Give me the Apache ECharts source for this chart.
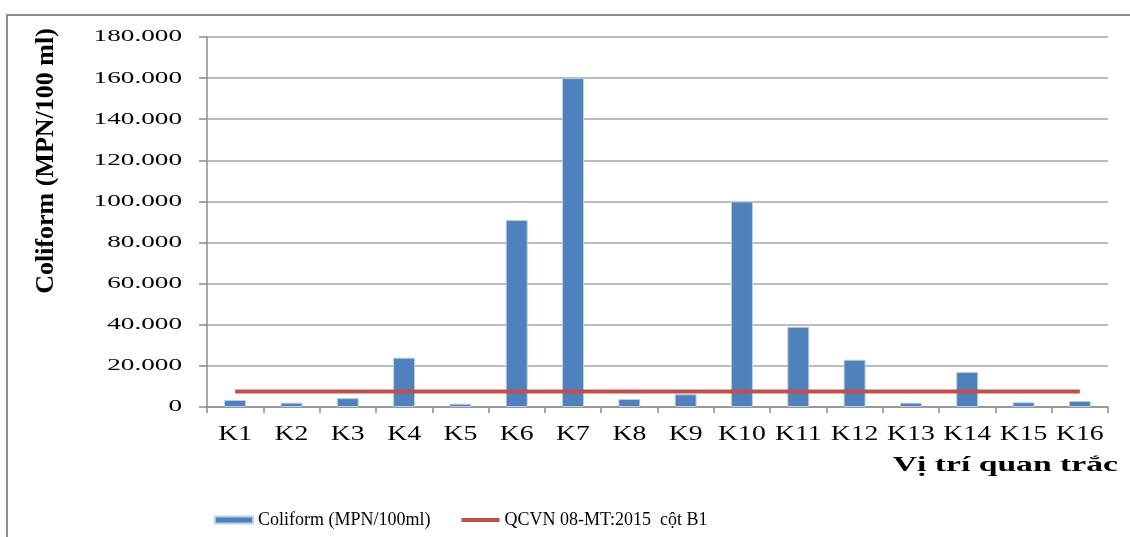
<!DOCTYPE html>
<html>
<head>
<meta charset="utf-8">
<script src="https://cdn.jsdelivr.net/npm/echarts@6/dist/echarts.min.js"></script>
<style>html,body{margin:0;padding:0;background:#fff}#c{width:1130px;height:537px}</style>
</head>
<body>
<div id="c"></div>
<script>
const categories = ['K1','K2','K3','K4','K5','K6','K7','K8','K9','K10','K11','K12','K13','K14','K15','K16'];
const coliform = [3400, 2100, 4300, 24000, 1600, 91000, 160000, 3900, 6200, 100000, 39000, 23000, 2100, 17000, 2300, 2900];
const qcvnLimit = [7500, 7500, 7500, 7500, 7500, 7500, 7500, 7500, 7500, 7500, 7500, 7500, 7500, 7500, 7500, 7500];
const yTicks = [0, 20000, 40000, 60000, 80000, 100000, 120000, 140000, 160000, 180000];
const yAxisTitle = 'Coliform (MPN/100 ml)';
const xAxisTitle = 'Vị trí quan trắc';
const seriesNames = ['Coliform (MPN/100ml)', 'QCVN 08-MT:2015  cột B1'];

const font = '"Liberation Serif", "Times New Roman", serif';
function fmt(v){ return v === 0 ? '0' : String(v).replace(/\B(?=(\d{3})+(?!\d))/g, '.'); }

const GRID = { left: 207, right: 22, top: 37, bottom: 130 };
const W = 1130;

const chart = echarts.init(document.getElementById('c'));
chart.setOption({
  animation: false,
  backgroundColor: '#fff',
  textStyle: { fontFamily: font },
  grid: { left: GRID.left, right: GRID.right, top: GRID.top, bottom: GRID.bottom, containLabel: false },
  legend: {
    left: 209, top: 506, itemGap: 31, itemWidth: 38, itemHeight: 7,
    textStyle: { fontFamily: font, fontSize: 18, color: '#000' },
    data: [
      { name: seriesNames[0], icon: 'rect' },
      { name: seriesNames[1], icon: 'path://M0,0 L0,0 M0,1.5 L38,1.5 L38,5.5 L0,5.5 Z M38,7 L38,7' }
    ]
  },
  xAxis: {
    type: 'category', data: categories, boundaryGap: true,
    axisLine: { lineStyle: { color: '#8c8c8c', width: 1.5 } },
    axisTick: { show: true, alignWithLabel: false, length: 6, lineStyle: { color: '#8c8c8c', width: 1.5 } },
    axisLabel: { show: false, interval: 0 }
  },
  yAxis: {
    type: 'value', min: 0, max: 180000, interval: 20000,
    axisLine: { show: true, lineStyle: { color: '#8c8c8c', width: 1.5 } },
    axisTick: { show: true, inside: false, length: 8, lineStyle: { color: '#8c8c8c', width: 1.5 } },
    splitLine: { lineStyle: { color: '#a6a6a6', width: 1.5 } },
    axisLabel: { show: false }
  },
  series: [
    { name: seriesNames[0], type: 'bar', data: coliform, barWidth: '39%',
      itemStyle: { color: '#4F81BD', borderColor: '#B9CDE5', borderWidth: 1 } },
    { name: seriesNames[1], type: 'line', data: qcvnLimit, symbol: 'none',
      lineStyle: { color: '#C0504D', width: 4 }, itemStyle: { color: '#C0504D' } }
  ]
});

// Tick labels placed through the library's own scales (convertToPixel), horizontally widened like the reference
const graphics = [
  { type: 'rect', shape: { x: 7, y: 15, width: 1140, height: 560 }, style: { fill: 'none', stroke: '#8c8c8c', lineWidth: 2 }, z: -1, silent: true },
  { type: 'text', x: 46, y: 161, rotation: Math.PI / 2,
    style: { text: yAxisTitle, font: 'bold 26px ' + font, fill: '#000', textAlign: 'center', textVerticalAlign: 'middle' } }
];
yTicks.forEach(v => {
  const py = chart.convertToPixel({ yAxisIndex: 0 }, v);
  graphics.push({ type: 'text', x: GRID.left - 25, y: py, scaleX: 1.6,
    style: { text: fmt(v), font: '17px ' + font, fill: '#000', textAlign: 'right', textVerticalAlign: 'middle' } });
});
const yZero = chart.convertToPixel({ yAxisIndex: 0 }, 0);
categories.forEach(c => {
  const px = chart.convertToPixel({ xAxisIndex: 0 }, c);
  graphics.push({ type: 'text', x: px, y: yZero + 27, scaleX: 1.32,
    style: { text: c, font: '21px ' + font, fill: '#000', textAlign: 'center', textVerticalAlign: 'middle' } });
});
graphics.push({ type: 'text', x: W - GRID.right + 10, y: yZero + 58, scaleX: 1.53,
  style: { text: xAxisTitle, font: 'bold 22px ' + font, fill: '#000', textAlign: 'right', textVerticalAlign: 'middle' } });
chart.setOption({ graphic: graphics });
</script>
</body>
</html>
